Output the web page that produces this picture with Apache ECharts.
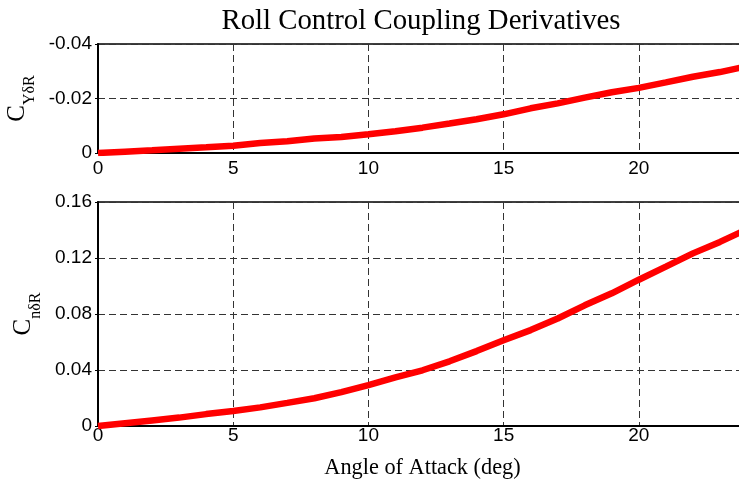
<!DOCTYPE html>
<html>
<head>
<meta charset="utf-8">
<script src="https://cdn.jsdelivr.net/npm/echarts@6/dist/echarts.min.js"></script>
<style>html,body{margin:0;padding:0;background:#fff;}#main{width:739px;height:486px;}</style>
</head>
<body>
<div id="main"></div>
<script>
var alpha = [0,1,2,3,4,5,6,7,8,9,10,11,12,13,14,15,16,17,18,19,20,21,22,23,24];
var cyDeltaR = [0,-0.0005,-0.001,-0.0016,-0.0021,-0.0027,-0.0037,-0.0043,-0.0053,-0.0059,-0.0069,-0.008,-0.0093,-0.0108,-0.0124,-0.0142,-0.0164,-0.0182,-0.0203,-0.0223,-0.0239,-0.0259,-0.028,-0.0297,-0.0318];
var cnDeltaR = [0,0.002,0.004,0.006,0.0085,0.0107,0.0133,0.0165,0.0198,0.0242,0.0292,0.0348,0.0398,0.0462,0.0535,0.0612,0.0685,0.0768,0.0862,0.0948,0.1045,0.1138,0.1233,0.1315,0.1405];
var xTicks = {min:0, max:24, interval:5};
var yTopTicks = {min:-0.04, max:0, interval:0.02};
var yBotTicks = {min:0, max:0.16, interval:0.04};
var titleText = 'Roll Control Coupling Derivatives';
var xName = 'Angle of Attack (deg)';

var chart = echarts.init(document.getElementById('main'), null, {renderer:'canvas'});
function pairs(xs, ys){ return xs.map(function(x,i){return [x, ys[i]];}); }
var tickFont = {fontFamily:'Liberation Sans, Arial, sans-serif', fontSize:19, color:'#000'};
var grid = {show:true, borderColor:'#000', borderWidth:1.5, backgroundColor:'#fff', containLabel:false, outerBoundsMode:'none'};
var split = {show:true, lineStyle:{color:'#333', type:[7,4], width:1}};
function xAxis(idx, margin){
  return {type:'value', gridIndex:idx, min:xTicks.min, max:xTicks.max, interval:xTicks.interval,
    axisLine:{show:true, onZero:false, lineStyle:{color:'#000', width:2}},
    axisTick:{show:false},
    axisLabel:Object.assign({margin:margin, showMaxLabel:false}, tickFont),
    splitLine:split};
}
function yName(sub){ return '{c|C}{s|' + sub + '}'; }
var nameRich = {
  c:{fontFamily:'Liberation Serif, Times New Roman, serif', fontSize:25, color:'#000', verticalAlign:'top', lineHeight:26},
  s:{fontFamily:'Liberation Serif, Times New Roman, serif', fontSize:16, color:'#000', verticalAlign:'top', lineHeight:16, padding:[17,0,0,0]}
};
var option = {
  animation:false,
  backgroundColor:'#fff',
  title:{text:titleText, left:416, top:2, textAlign:'center',
    textStyle:{fontFamily:'Liberation Serif, Times New Roman, serif', fontSize:28.8, fontWeight:'normal', color:'#000'}},
  grid:[
    Object.assign({left:98, top:44, width:649, height:109}, grid),
    Object.assign({left:98, top:202, width:649, height:224}, grid)
  ],
  xAxis:[
    xAxis(0, 6),
    Object.assign(xAxis(1, 0), {name:xName, nameLocation:'middle', nameGap:31,
      nameTextStyle:{fontFamily:'Liberation Serif, Times New Roman, serif', fontSize:22.3, color:'#000'}})
  ],
  yAxis:[
    {type:'value', gridIndex:0, inverse:true, min:yTopTicks.min, max:yTopTicks.max, interval:yTopTicks.interval,
      name:yName('Y\u03b4R'), nameLocation:'middle', nameGap:60, nameTextStyle:{rich:nameRich},
      axisLine:{show:true, lineStyle:{color:'#000', width:2}},
      axisTick:{show:true, length:3, lineStyle:{color:'#000'}},
      axisLabel:Object.assign({margin:6}, tickFont),
      splitLine:split},
    {type:'value', gridIndex:1, min:yBotTicks.min, max:yBotTicks.max, interval:yBotTicks.interval,
      name:yName('n\u03b4R'), nameLocation:'middle', nameGap:60, nameTextStyle:{rich:nameRich},
      axisLine:{show:true, lineStyle:{color:'#000', width:2}},
      axisTick:{show:true, length:3, lineStyle:{color:'#000'}},
      axisLabel:Object.assign({margin:6}, tickFont),
      splitLine:split}
  ],
  series:[
    {type:'line', xAxisIndex:0, yAxisIndex:0, data:pairs(alpha, cyDeltaR), showSymbol:false, symbol:'none',
      lineStyle:{color:'#ff0000', width:6.5}, clip:true},
    {type:'line', xAxisIndex:1, yAxisIndex:1, data:pairs(alpha, cnDeltaR), showSymbol:false, symbol:'none',
      lineStyle:{color:'#ff0000', width:6.5}, clip:true}
  ]
};
chart.setOption(option);
</script>
</body>
</html>
